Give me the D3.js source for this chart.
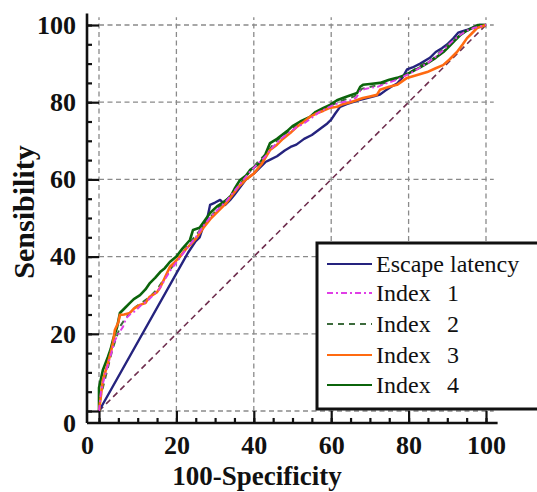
<!DOCTYPE html>
<html>
<head>
<meta charset="utf-8">
<script src="https://cdn.jsdelivr.net/npm/d3@7"></script>
<style>
  body { margin: 0; background: #fff; }
  svg { display: block; }
  text { font-family: "Liberation Serif", "Times New Roman", serif; }
</style>
</head>
<body>
<div class="chart"></div>
<script>
// ROC curves, values (100-Specificity, Sensibility)
const escapeLatency = [[0,0],[23,41],[25,44],[26,45],[27,48],[28,50],[28.7,53.4],[30,54],[31.3,54.7],[32.6,53.4],[33.9,54.7],[35,56],[36.5,58],[38,60],[40,61.5],[41.5,63],[43,64.5],[44,65],[46,66],[48,67.5],[49.5,68.4],[51,69],[53,70.5],[55,71.5],[57,73],[59,74.5],[60,75.5],[61,77],[62.3,78.8],[64,79.5],[65.6,80],[67,80.5],[69,81],[71,81.5],[72.6,82],[74,83],[75.5,84],[77,84.8],[78.5,86.5],[79.6,88.5],[81,89],[83,90],[85.5,91.5],[87,93],[88.6,94],[90,95],[91.5,96.5],[92.8,98],[95,98.7],[97,99.5],[98.4,100],[100,100]];
const index1 = [[0,0],[0.5,5],[1.5,9],[2.3,12],[3.2,15],[4,18],[5,20],[6.2,21.8],[7,24],[8,25],[9.5,26],[11,27.5],[12.5,28.5],[14,30],[15.5,31.5],[17,34],[18.5,36.5],[20,38.5],[21.5,40.5],[23,42.5],[25,45],[27,48],[29,50.5],[31,52.5],[33,54.5],[35,57],[37,59.5],[39,62],[41,64],[43,66],[45,68.5],[47,70.5],[49,72],[51,73.5],[53,74.5],[55,76],[57,77.5],[59,78.5],[61,79.5],[63,80],[65,80.5],[66.5,81.2],[67.5,83],[69,83.5],[72,84],[74,84.8],[77,85.8],[79,86.8],[81,87.8],[83,89],[85,90.2],[87,91.8],[89,93.5],[91,95.5],[93,97.2],[95,98.5],[97,99.3],[100,100]];
const index2 = [[0,0],[0.5,4],[1.5,8],[2.5,12],[3.5,16],[4.5,19],[5.5,22],[6.5,23.5],[8,25.5],[9.5,27],[11,28],[13,29.5],[15,31.5],[17,34.5],[19,37.5],[21,40],[23,43],[25,45.5],[27,48],[29,50.5],[31,52.8],[33,54.8],[35,57],[37,59.5],[39,62],[41,64.5],[43,66.5],[45,69],[47,71],[49,72.5],[51,74],[54,76],[57,77.8],[60,79.2],[63,80.5],[66,81.5],[68,83.5],[71,84.2],[74,85],[77,86],[80,87.5],[83,89.5],[86,91],[89,93.8],[92,96.5],[95,98.5],[100,100]];
const index3 = [[0,0],[1,8],[2.3,12.4],[3,15],[3.6,17.6],[4.1,21],[5,23],[5.4,24.9],[6.5,25],[8,25.4],[9,26.5],[10.6,27.5],[12,28],[13,29.5],[15,30.8],[15.8,32],[17,34.5],[18.3,37.3],[19.5,38.5],[20.9,40],[22.5,42],[24,43.5],[25.3,45],[27,47.5],[29,50],[31,52],[33,54],[34.5,56],[36,58],[38,60],[40,61.5],[42,64],[44.2,67.6],[46,69],[47.5,70.5],[49.4,72],[51,73.5],[53,75],[54.5,76.2],[56,77],[58,77.8],[59.5,78.5],[61.5,78.8],[63,79.5],[65,80],[66.5,80.5],[68.2,81.1],[70,81.5],[71.8,81.9],[72.6,83.2],[75,84],[77,84.5],[79.6,86.3],[82,87],[84.8,87.8],[87,88.8],[88.9,89.6],[90.5,91],[92.5,93],[94,95],[95.1,96.6],[96.5,98],[97.7,99.2],[100,100]];
const index4 = [[0,0],[0,6],[1,10.6],[2.3,14],[3,16],[3.6,18.4],[4.7,21.8],[5.4,25.4],[6.5,26.5],[8,28],[9,29],[10.6,30],[12,31.5],[13.2,33.2],[14.5,34.5],[15.8,36],[17,37],[18.3,38.6],[20,40],[21.5,42],[23.5,44.3],[24.3,46.9],[26,47.5],[28.7,51.3],[30.5,53],[32,54],[33.9,55.4],[35,57.5],[36.4,59.8],[38,61],[39,62.4],[41.6,64.2],[43,66.5],[44.2,69.4],[46,70.5],[48.6,72.5],[50,73.8],[52,75],[54.5,76.2],[56,77.5],[58,78.5],[59.7,79.3],[61.5,80.5],[63,81.1],[65,81.8],[66.7,82.4],[67.5,84],[68.2,84.5],[70,84.7],[72.6,85],[75,85.8],[77,86.3],[79,87],[81,88],[83,89],[85,90.2],[87,91.5],[89,93],[90.5,94.5],[92,96],[93.5,97.5],[95,98.5],[97,99.5],[98,100],[100,100]];
const reference = [[0,0],[100,100]];

const seriesNames = ["Escape latency", "Index", "Index", "Index", "Index"];
const seriesNums = ["", "1", "2", "3", "4"];
const tickValues = [0, 20, 40, 60, 80, 100];
const minorTicks = d3.range(0, 101, 5);

const width = 537, height = 492;

const x = d3.scaleLinear().domain([0, 100]).range([99, 486]);
const y = d3.scaleLinear().domain([0, 100]).range([411, 25]);

const svg = d3.select(".chart").append("svg")
  .attr("width", width)
  .attr("height", height);

// dashed grid
const grid = svg.append("g")
  .attr("stroke", "#8a8a8a")
  .attr("stroke-width", 1.3)
  .attr("stroke-dasharray", "5,3.5");
grid.selectAll(".vg")
  .data(tickValues)
  .join("line")
  .attr("x1", d => x(d)).attr("x2", d => x(d))
  .attr("y1", y(0)).attr("y2", y(102));
grid.selectAll(".hg")
  .data(tickValues)
  .join("line")
  .attr("class", "hg")
  .attr("y1", d => y(d)).attr("y2", d => y(d))
  .attr("x1", x(0)).attr("x2", x(102));

const line = d3.line()
  .x(d => x(d[0]))
  .y(d => y(d[1]));

// diagonal reference line
svg.append("path")
  .datum(reference)
  .attr("d", line)
  .attr("fill", "none")
  .attr("stroke", "#6f2f4f")
  .attr("stroke-width", 1.6)
  .attr("stroke-dasharray", "6,4");

const series = [
  { data: escapeLatency, color: "#25237e", width: 2.4, dash: null },
  { data: index1, color: "#e03ee6", width: 1.9, dash: "6,3,2,3" },
  { data: index2, color: "#3d6b3d", width: 1.9, dash: "6,5" },
  { data: index3, color: "#ff6a10", width: 2.6, dash: null },
  { data: index4, color: "#0b640b", width: 2.6, dash: null }
];

const drawOrder = [0, 2, 4, 3, 1];
drawOrder.forEach(i => {
  const s = series[i];
  svg.append("path")
    .datum(s.data)
    .attr("d", line)
    .attr("fill", "none")
    .attr("stroke", s.color)
    .attr("stroke-width", s.width)
    .attr("stroke-linejoin", "round")
    .attr("stroke-dasharray", s.dash);
});

// legend
const legend = svg.append("g");
legend.append("rect")
  .attr("x", 317).attr("y", 243)
  .attr("width", 240).attr("height", 166)
  .attr("fill", "#fff")
  .attr("stroke", "#111")
  .attr("stroke-width", 3);

const rowY = [264, 293, 324, 355, 385];
series.forEach((s, i) => {
  legend.append("line")
    .attr("x1", 327).attr("x2", 372)
    .attr("y1", rowY[i]).attr("y2", rowY[i])
    .attr("stroke", s.color)
    .attr("stroke-width", Math.min(s.width, 2.2))
    .attr("stroke-dasharray", s.dash);
  const t = legend.append("text")
    .attr("x", 376)
    .attr("y", rowY[i] + 8)
    .attr("font-size", 24)
    .attr("fill", "#111")
    .text(seriesNames[i]);
  if (seriesNums[i]) {
    t.append("tspan").attr("x", 447).text(seriesNums[i]);
  }
});

// axes
const axisColor = "#111";
svg.append("line")
  .attr("x1", x(-3.1)).attr("x2", x(-3.1))
  .attr("y1", y(-3.1)).attr("y2", y(103))
  .attr("stroke", axisColor).attr("stroke-width", 2.6);
svg.append("line")
  .attr("x1", x(-3.1)).attr("x2", x(103))
  .attr("y1", y(-3.1)).attr("y2", y(-3.1))
  .attr("stroke", axisColor).attr("stroke-width", 2.6);

const xAxis = svg.append("g")
  .attr("transform", `translate(0,${y(-3.1)})`)
  .call(d3.axisBottom(x).tickValues(tickValues).tickSize(-12).tickPadding(13).tickFormat(d3.format("d")));
const yAxis = svg.append("g")
  .attr("transform", `translate(${x(-3.1)},0)`)
  .call(d3.axisLeft(y).tickValues(tickValues).tickSize(-12).tickPadding(11).tickFormat(d3.format("d")));

const xMinor = svg.append("g")
  .attr("transform", `translate(0,${y(-3.1)})`)
  .call(d3.axisBottom(x).tickValues(minorTicks).tickSize(-5).tickFormat(""));
const yMinor = svg.append("g")
  .attr("transform", `translate(${x(-3.1)},0)`)
  .call(d3.axisLeft(y).tickValues(minorTicks).tickSize(-5).tickFormat(""));

[xAxis, yAxis, xMinor, yMinor].forEach(g => {
  g.select(".domain").remove();
  g.selectAll(".tick line").attr("stroke", axisColor).attr("stroke-width", 2.2);
  g.selectAll(".tick text")
    .attr("font-family", "Liberation Serif, serif")
    .attr("font-weight", "bold")
    .attr("font-size", 26)
    .attr("fill", "#111");
});

// the "0" labels sit at the axis corner
xAxis.selectAll(".tick").filter(d => d === 0).select("text")
  .attr("x", x(-3.1) - x(0));
yAxis.selectAll(".tick").filter(d => d === 0).select("text")
  .attr("y", y(-3.1) - y(0));

// axis titles
svg.append("text")
  .attr("x", 257).attr("y", 485)
  .attr("text-anchor", "middle")
  .attr("font-weight", "bold")
  .attr("font-size", 27)
  .attr("fill", "#111")
  .text("100-Specificity");
svg.append("text")
  .attr("transform", "translate(34,212) rotate(-90)")
  .attr("text-anchor", "middle")
  .attr("font-weight", "bold")
  .attr("font-size", 30)
  .attr("fill", "#111")
  .text("Sensibility");
</script>
</body>
</html>
